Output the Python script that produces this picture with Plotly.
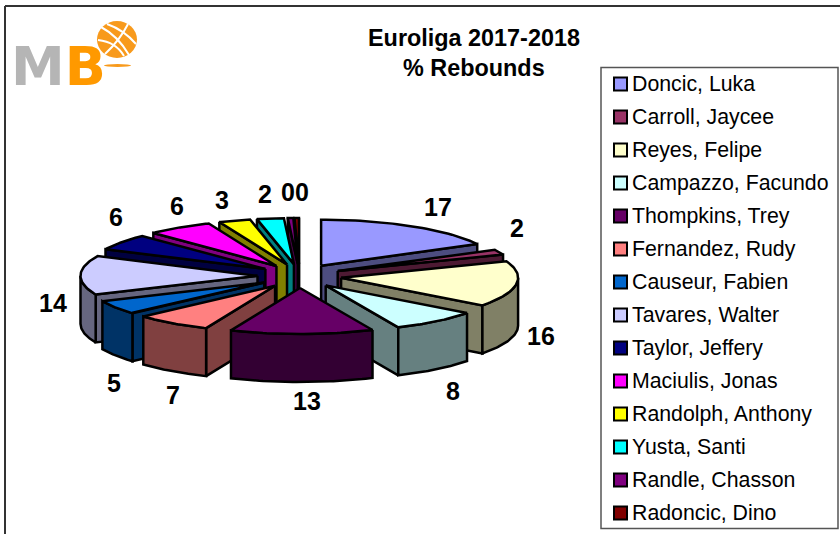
import math
import numpy as np
import plotly.graph_objects as go

# ---------- data ----------
players = ["Doncic, Luka", "Carroll, Jaycee", "Reyes, Felipe", "Campazzo, Facundo",
           "Thompkins, Trey", "Fernandez, Rudy", "Causeur, Fabien", "Tavares, Walter",
           "Taylor, Jeffery", "Maciulis, Jonas", "Randolph, Anthony", "Yusta, Santi",
           "Randle, Chasson", "Radoncic, Dino"]
rebounds = [17.2, 2.0, 16.1, 8.0, 13.1, 7.0, 5.0, 13.7, 5.7, 6.0, 2.9, 2.45, 0.5, 0.4]
title_lines = ["Euroliga 2017-2018", "% Rebounds"]

# ---------- style ----------
top_colors = ["#9999FF", "#993366", "#FFFFCC", "#CCFFFF", "#660066", "#FF8080", "#0066CC",
              "#CCCCFF", "#000080", "#FF00FF", "#FFFF00", "#00FFFF", "#800080", "#800000"]
wall_colors = ["#4D4D80", "#4D1A33", "#808066", "#668080", "#330033", "#804040", "#003366",
               "#666680", "#000040", "#800080", "#808000", "#008080", "#400040", "#400000"]
CX, CY, RX, RY, EXPLODE, EXPLODE_Y, DEPTH = 299.5, 276, 177, 46, 42, 12, 48
label_offsets = [(26, -19), (18, -24), (25, 52), (17, 70), (5, 67), (1, 72), (-2, 76),
                 (-28, 28), (-6, -25), (-2, -22), (-12, -21), (-5, -25), (-3, -26), (5, -26)]
LINE = dict(color="black", width=2.5)


def pt(t, r, ox, oy):
    return ox + r * RX * math.sin(t), oy - r * RY * math.cos(t)


def poly(fig, xs, ys, color, name):
    fig.add_trace(go.Scatter(x=xs, y=ys, mode="lines", fill="toself", fillcolor=color,
                             line=LINE, name=name, hoverinfo="name", showlegend=False))


total = sum(rebounds)
edges = np.cumsum([0] + rebounds) / total * 2 * math.pi
slices = []
for i in range(len(players)):
    a, b = edges[i], edges[i + 1]
    mid = (a + b) / 2
    ox = CX + EXPLODE * math.sin(mid)
    oy = CY - EXPLODE_Y * math.cos(mid)
    slices.append((i, a, b, mid, ox, oy))

fig = go.Figure()
annotations = []
for i, a, b, mid, ox, oy in sorted(slices, key=lambda s: -math.cos(s[3])):
    name = players[i]
    rim = [pt(t, 1, ox, oy) for t in np.linspace(a, b, 40)]
    # radial walls that face the viewer
    if math.sin(a) < 0:
        rx, ry = pt(a, 1, ox, oy)
        poly(fig, [ox, rx, rx, ox, ox], [oy, ry, ry + DEPTH, oy + DEPTH, oy], wall_colors[i], name)
    if math.sin(b) > 0:
        rx, ry = pt(b, 1, ox, oy)
        poly(fig, [ox, rx, rx, ox, ox], [oy, ry, ry + DEPTH, oy + DEPTH, oy], wall_colors[i], name)
    # outer curved wall
    lo, hi = max(a, math.pi / 2), min(b, 3 * math.pi / 2)
    if hi > lo:
        arc = [pt(t, 1, ox, oy) for t in np.linspace(lo, hi, 40)]
        xs = [p[0] for p in arc] + [p[0] for p in arc[::-1]]
        ys = [p[1] for p in arc] + [p[1] + DEPTH for p in arc[::-1]]
        poly(fig, xs + xs[:1], ys + ys[:1], wall_colors[i], name)
    # top face
    poly(fig, [ox] + [p[0] for p in rim] + [ox], [oy] + [p[1] for p in rim] + [oy], top_colors[i], name)
    lx, ly = pt(mid, 1, ox, oy)
    annotations.append(dict(x=lx + label_offsets[i][0], y=ly + label_offsets[i][1], xref="x", yref="y",
                            text=f"<b>{round(rebounds[i])}</b>", showarrow=False,
                            font=dict(family="Liberation Sans", size=25, color="black")))

shapes = [
    dict(type="line", x0=5, x1=5, y0=6, y1=534, line=dict(color="#333333", width=2)),
    dict(type="line", x0=5, x1=840, y0=6, y1=6, line=dict(color="#333333", width=2)),
    dict(type="rect", x0=601, x1=838, y0=67.5, y1=528.5, line=dict(color="#555555", width=1.5),
         fillcolor="white", layer="below"),
]
# legend
LEG_Y0, LEG_STEP = 84, 33
for i, nm in enumerate(players):
    yy = LEG_Y0 + i * LEG_STEP
    shapes.append(dict(type="rect", x0=614, x1=627, y0=yy - 6.5, y1=yy + 6.5, fillcolor=top_colors[i],
                       line=dict(color="black", width=2)))
    annotations.append(dict(x=630, y=yy, xref="x", yref="y", xanchor="left", yanchor="middle", text=nm,
                            showarrow=False, font=dict(family="Liberation Sans", size=21.3, color="black")))

# title
annotations.append(dict(x=474, y=38, xref="x", yref="y", text=f"<b>{title_lines[0]}</b>", showarrow=False,
                        font=dict(family="Liberation Sans", size=23.4, color="black")))
annotations.append(dict(x=474, y=68, xref="x", yref="y", text=f"<b>{title_lines[1]}</b>", showarrow=False,
                        font=dict(family="Liberation Sans", size=23.4, color="black")))

# logo
annotations.append(dict(x=9, y=66, xref="x", yref="y", xanchor="left", yanchor="middle",
                        text="<b>M<span style='color:#FF9900'>B</span></b>",
                        showarrow=False, font=dict(family="DejaVu Sans", size=54, color="#B5B5B5")))
ORANGE = "#F89A1C"
shapes += [
    dict(type="circle", x0=97, x1=137, y0=21, y1=58, fillcolor=ORANGE, line=dict(width=0)),
    dict(type="circle", x0=104, x1=131, y0=64, y1=67, fillcolor=ORANGE, line=dict(width=0)),
    dict(type="path", path="M 101 27 Q 118 36 129 55", line=dict(color="white", width=2)),
    dict(type="path", path="M 98 40 Q 116 42 124 56", line=dict(color="white", width=2)),
    dict(type="path", path="M 107 24 Q 124 30 136 44", line=dict(color="white", width=2)),
    dict(type="path", path="M 128 24 Q 120 40 105 54", line=dict(color="white", width=2)),
]

fig.update_layout(
    width=840, height=534, margin=dict(l=0, r=0, t=0, b=0),
    paper_bgcolor="white", plot_bgcolor="white", showlegend=False,
    xaxis=dict(range=[0, 840], visible=False, fixedrange=True),
    yaxis=dict(range=[534, 0], visible=False, fixedrange=True),
    shapes=shapes, annotations=annotations,
)
fig.write_html("out.html", config={"displayModeBar": False},
               post_script="document.body.style.margin='0';document.body.style.overflow='hidden';")
